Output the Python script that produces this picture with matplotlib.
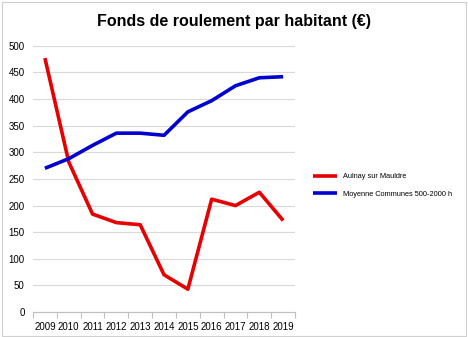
import numpy as np
import matplotlib.pyplot as plt
from matplotlib.patches import Rectangle

# Données
annees = ['2009', '2010', '2011', '2012', '2013', '2014', '2015', '2016', '2017', '2018', '2019']
aulnay = [477, 282, 184, 168, 164, 70, 43, 212, 200, 225, 172]
moyenne = [270, 288, 313, 336, 336, 332, 376, 397, 425, 440, 442]

plt.rcParams['font.family'] = ['Liberation Sans', 'DejaVu Sans']

fig = plt.figure(figsize=(4.68, 3.37), dpi=100)
ax = fig.add_axes([0.0705, 0.074, 0.56, 0.79])

x = np.arange(len(annees))
ax.plot(x, aulnay, color='#e60000', lw=2.6, label='Aulnay sur Mauldre', solid_capstyle='butt')
ax.plot(x, moyenne, color='#0000d0', lw=2.6, label='Moyenne Communes 500-2000 h', solid_capstyle='butt')

ax.set_xlim(-0.5, len(annees) - 0.5)
ax.set_ylim(0, 500)
ax.set_yticks(np.arange(0, 501, 50))
ax.tick_params(axis='y', length=0, labelsize=7, pad=6)

# graduations entre les catégories
ax.set_xticks(np.arange(-0.5, len(annees), 1.0))
ax.set_xticklabels([])
ax.tick_params(axis='x', which='major', length=4, color='#bfbfbf', direction='out')
ax.set_xticks(x, minor=True)
ax.set_xticklabels(annees, minor=True)
ax.tick_params(axis='x', which='minor', length=0, labelsize=7, pad=7)

ax.grid(axis='y', color='#d9d9d9', lw=0.8)
ax.set_axisbelow(True)
for s in ['top', 'right', 'left']:
    ax.spines[s].set_visible(False)
ax.spines['bottom'].set_color('#bfbfbf')

fig.text(0.5, 0.935, 'Fonds de roulement par habitant (€)', ha='center', va='center',
         fontsize=11.5, fontweight='bold')

fig.legend(loc='center left', bbox_to_anchor=(0.655, 0.45), frameon=False, fontsize=5.3,
           handlelength=3.2, labelspacing=1.4)

fig.patches.append(Rectangle((0.004, 0.004), 0.992, 0.99, transform=fig.transFigure,
                             fill=False, edgecolor='#d0d0d0', lw=0.8))

fig.savefig('out.png', dpi=100)
